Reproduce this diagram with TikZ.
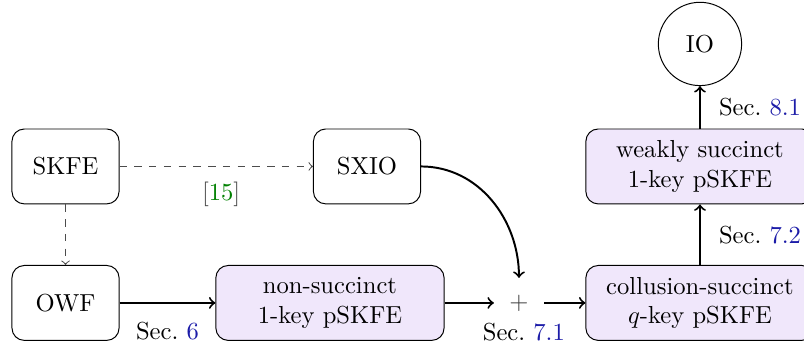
\documentclass[tikz,border=0pt]{standalone}
\usepackage{amsmath}
\usepackage{amssymb}
\usetikzlibrary{positioning}

\definecolor{schemefill}{RGB}{240,231,251}
\definecolor{secblue}{RGB}{28,28,168}
\definecolor{citegreen}{RGB}{0,128,0}
\newcommand{\secref}[1]{Sec.~\textcolor{secblue}{#1}}

\begin{document}
\begin{tikzpicture}[
        prim/.style={draw, rounded corners=5pt, minimum width=1.53cm, minimum height=1.07cm},
        scheme/.style={prim, fill=schemefill, minimum width=3.26cm, align=center},
        impl/.style={->, thick},
        known/.style={->, dashed, black!70}
    ]
        \useasboundingbox (0,0) rectangle (11.486,4.957);

        \node[prim] (skfe) at (0.936,2.579) {SKFE};
        \node[prim] (sxio) at (5.243,2.579) {SXIO};
        \node[prim] (owf) at (0.936,0.629) {OWF};
        \node[scheme] (nons) at (4.714,0.629) {non-succinct\\1-key pSKFE};
        \node[minimum size=20pt, inner sep=0pt, text=black!75] (plus) at (7.414,0.629) {$+$};
        \node[scheme] (coll) at (10.0,0.629) {collusion-succinct\\$q$-key pSKFE};
        \node[scheme] (weak) at (10.0,2.579) {weakly succinct\\1-key pSKFE};
        \node[draw, circle, minimum size=1.19cm] (io) at (10.0,4.329) {IO};

        \draw[known] (skfe) -- (sxio) node[midway, below=3pt, xshift=2pt] {[\textcolor{citegreen}{15}]};
        \draw[known] (skfe) -- (owf);
        \draw[impl] (owf) -- (nons) node[midway, below=4pt] {\secref{6}};
        \draw[impl] (nons) -- (plus);
        \draw[impl] (sxio.east) to[out=0, in=90] (plus.north);
        \draw[impl] (plus) -- (coll);
        \node (plussec) at ([xshift=2pt, yshift=-12pt]plus.center) {\secref{7.1}};
        \draw[impl] (coll) -- (weak) node[midway, right=4pt] {\secref{7.2}};
        \draw[impl] (weak) -- (io) node[midway, right=4pt] {\secref{8.1}};
    \end{tikzpicture}
\end{document}
